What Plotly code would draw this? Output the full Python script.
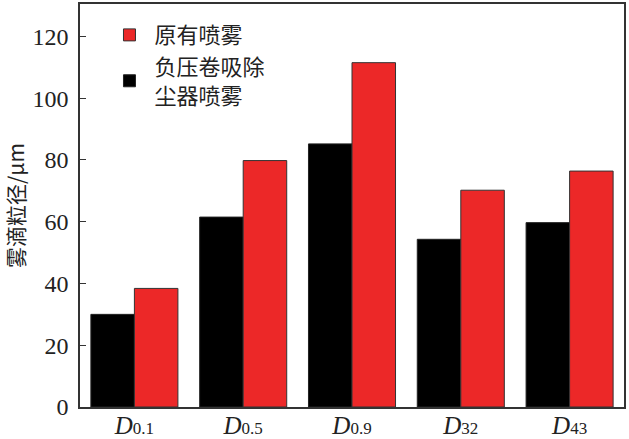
import plotly.graph_objects as go

categories = ["<i>D</i><span style='font-size:17px'>0.1</span>",
              "<i>D</i><span style='font-size:17px'>0.5</span>",
              "<i>D</i><span style='font-size:17px'>0.9</span>",
              "<i>D</i><span style='font-size:17px'>32</span>",
              "<i>D</i><span style='font-size:17px'>43</span>"]
series_names = ["负压卷吸除<br>尘器喷雾", "原有喷雾"]
negative_pressure = [30.0, 61.5, 85.2, 54.3, 59.7]
original = [38.4, 79.8, 111.5, 70.2, 76.4]
y_ticks = [0, 20, 40, 60, 80, 100, 120]

fig = go.Figure()
fig.add_trace(go.Bar(x=categories, y=negative_pressure, name=series_names[0],
                     marker=dict(color="#000000", line=dict(color="#222222", width=1))))
fig.add_trace(go.Bar(x=categories, y=original, name=series_names[1],
                     marker=dict(color="#EC2828", line=dict(color="#333333", width=1))))

serif = "Liberation Serif, Times New Roman, serif"
cjk = "Noto Sans CJK SC"

fig.update_layout(
    width=629, height=439,
    margin=dict(l=80, r=5, t=4, b=32),
    paper_bgcolor="white", plot_bgcolor="white",
    barmode="group", bargap=0.2, bargroupgap=0,
    showlegend=True,
    legend=dict(x=0.045, y=0.975, xanchor="left", yanchor="top",
                traceorder="reversed", font=dict(family=cjk, size=22, color="#222"),
                bgcolor="rgba(0,0,0,0)", itemwidth=40),
    xaxis=dict(showline=True, linecolor="#333", linewidth=1.5, mirror=True,
               ticks="", tickfont=dict(family=serif, size=25, color="#222"),
               ticklabelstandoff=-5,
               range=[-0.5, 4.5], automargin=False),
    yaxis=dict(showline=True, linecolor="#333", linewidth=1.5, mirror=True,
               range=[0, 130.5], tickvals=y_ticks, ticks="inside", ticklen=6,
               tickcolor="#333", showgrid=False, zeroline=False, automargin=False,
               ticklabelstandoff=5,
               tickfont=dict(family=serif, size=24, color="#222"),
               title=dict(text="雾滴粒径/μm", font=dict(family=cjk, size=21, color="#222"),
                          standoff=4)),
)

fig.write_html("out.html", config={"displayModeBar": False},
               post_script="document.body.style.margin='0';document.body.style.overflow='hidden';")
